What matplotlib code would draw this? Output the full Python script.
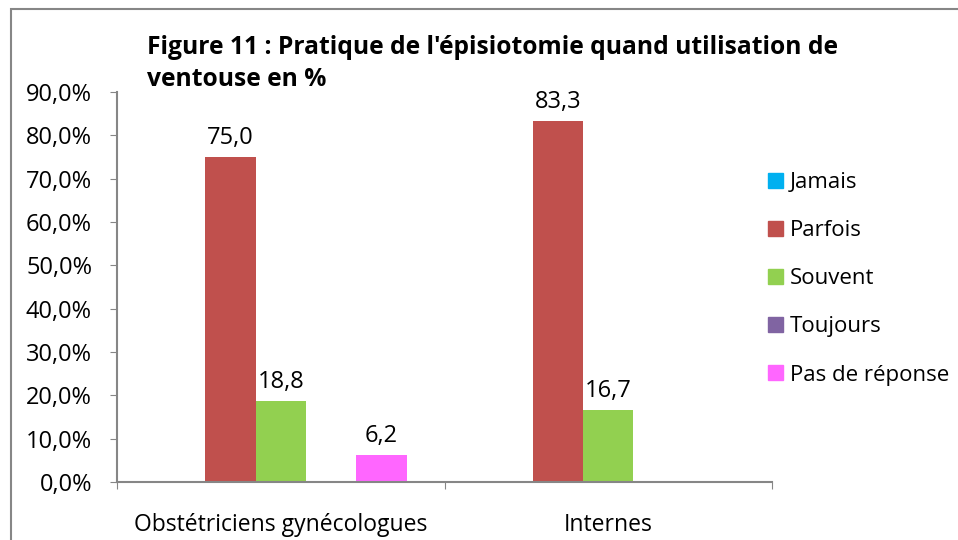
import numpy as np
import matplotlib.pyplot as plt
from matplotlib.patches import Rectangle, Patch

plt.rcParams['font.family'] = ['Open Sans', 'DejaVu Sans']

# data (percent)
categories = ["Obstétriciens gynécologues", "Internes"]
series = ["Jamais", "Parfois", "Souvent", "Toujours", "Pas de réponse"]
values = {
    "Jamais": [0.0, 0.0],
    "Parfois": [75.0, 83.3],
    "Souvent": [18.8, 16.7],
    "Toujours": [0.0, 0.0],
    "Pas de réponse": [6.2, 0.0],
}
colors = ["#00B0F0", "#C0504D", "#92D050", "#8064A2", "#FF66FF"]
yticks = np.arange(0, 91, 10)

fig = plt.figure(figsize=(9.58, 5.4), dpi=100)
ax = fig.add_axes([117 / 958, 1 - 482 / 540, (772 - 117) / 958, (482 - 92) / 540])

x = np.arange(len(categories))
w = 1 / 6.5
for i, (name, col) in enumerate(zip(series, colors)):
    vals = values[name]
    pos = x + (i - 2) * w
    ax.bar(pos, vals, width=w, color=col, align="center")
    for p, v in zip(pos, vals):
        if v > 0:
            ax.annotate(f"{v:.1f}".replace(".", ","), (p, v), xytext=(0, 5),
                        textcoords="offset points", ha="center", va="bottom",
                        fontsize=17)

ax.set_xlim(-0.5, 1.5)
ax.set_ylim(0, 90)
ax.set_yticks(yticks)
ax.set_yticklabels([f"{t:.1f}%".replace(".", ",") for t in yticks], fontsize=17)
ax.set_xticks([-0.5, 0.5, 1.5])
ax.set_xticklabels([])
ax.set_xticks(x, minor=True)
ax.set_xticklabels(categories, minor=True, fontsize=16.5)
ax.tick_params(axis="x", which="minor", length=0, pad=22)
ax.tick_params(axis="both", which="major", direction="out", length=5, color="#868686")
ax.tick_params(axis="y", pad=13)
for s in ["top", "right"]:
    ax.spines[s].set_visible(False)
for s in ["left", "bottom"]:
    ax.spines[s].set_color("#868686")
    ax.spines[s].set_linewidth(1.5)

fig.text(147 / 958, 1 - 86 / 540,
         "Figure 11 : Pratique de l'épisiotomie quand utilisation de\nventouse en %",
         fontsize=17.7, fontweight="bold", ha="left", va="baseline", linespacing=1.35)

handles = [Patch(color=c) for c in colors]
fig.legend(handles, series, loc="upper left", bbox_to_anchor=(757 / 958, 1 - 161 / 540),
           frameon=False, fontsize=16, handlelength=0.68, handleheight=0.68,
           handletextpad=0.3, labelspacing=1.22, borderpad=0)

fig.patches.append(Rectangle((11 / 958, -0.1), 1.2, 1 - 9 / 540 + 0.1,
                             transform=fig.transFigure, fill=False,
                             edgecolor="#868686", linewidth=1.5))

fig.savefig("out.png", dpi=100)
